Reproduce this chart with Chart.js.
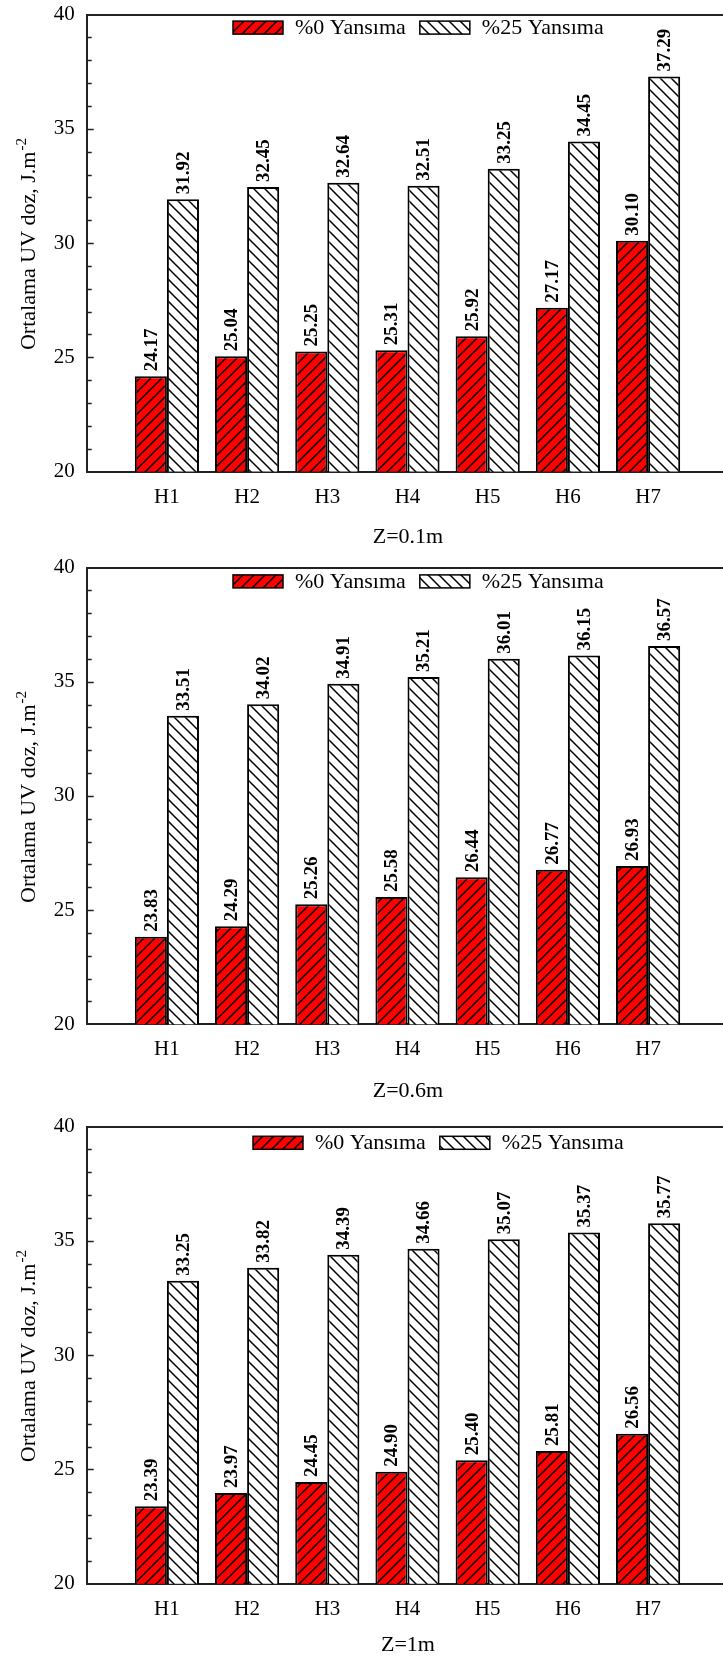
<!DOCTYPE html>
<html>
<head>
<meta charset="utf-8">
<script src="https://cdn.jsdelivr.net/npm/chart.js@4.4.1/dist/chart.umd.min.js"></script>
<style>
  html, body { margin: 0; padding: 0; background: #fff; }
  body { position: relative; width: 723px; height: 1661px; overflow: hidden; }
  canvas { position: absolute; left: 0; }
</style>
</head>
<body>
<canvas id="c1" width="740" height="600"></canvas>
<canvas id="c2" width="740" height="600"></canvas>
<canvas id="c3" width="740" height="600"></canvas>
<script>
// categories and series
const categories = ["H1", "H2", "H3", "H4", "H5", "H6", "H7"];
const seriesNames = ["%0 Yansıma", "%25 Yansıma"];
const captions = ["Z=0.1m", "Z=0.6m", "Z=1m"];

// Z = 0.1 m
const z01Refl0 = [24.17, 25.04, 25.25, 25.31, 25.92, 27.17, 30.10];
const z01Refl25 = [31.92, 32.45, 32.64, 32.51, 33.25, 34.45, 37.29];
// Z = 0.6 m
const z06Refl0 = [23.83, 24.29, 25.26, 25.58, 26.44, 26.77, 26.93];
const z06Refl25 = [33.51, 34.02, 34.91, 35.21, 36.01, 36.15, 36.57];
// Z = 1 m
const z1Refl0 = [23.39, 23.97, 24.45, 24.90, 25.40, 25.81, 26.56];
const z1Refl25 = [33.25, 33.82, 34.39, 34.66, 35.07, 35.37, 35.77];

const yMin = 20, yMax = 40, yStep = 5;
const yTitle = "Ortalama UV doz, J.m";
const yTitleSup = "-2";

const FONT = "'Liberation Serif', 'Times New Roman', serif";
const CW = 740, CH = 600, TOP_PAD = 20, X_AXIS_H = 90, Y_AXIS_W = 86.7, PLOT_RIGHT = 728.3;

// page layout of each panel (pixels)
const panels = [
  { id: "c1", top: 9.5, bottom: 471, captionY: 537, legendX: 233, legendDy: 6.5 },
  { id: "c2", top: 562.7, bottom: 1024, captionY: 1091, legendX: 233, legendDy: 7.3 },
  { id: "c3", top: 1122.3, bottom: 1584, captionY: 1646, legendX: 253, legendDy: 9.7 }
];

function hatch(bg, forward) {
  const s = 11;
  const c = document.createElement("canvas");
  c.width = c.height = s;
  const g = c.getContext("2d");
  g.fillStyle = bg;
  g.fillRect(0, 0, s, s);
  g.strokeStyle = "#000";
  g.lineWidth = 1.5;
  g.beginPath();
  if (forward) {
    g.moveTo(-1, s + 1); g.lineTo(s + 1, -1);
    g.moveTo(-1, 1); g.lineTo(1, -1);
    g.moveTo(s - 1, s + 1); g.lineTo(s + 1, s - 1);
  } else {
    g.moveTo(-1, -1); g.lineTo(s + 1, s + 1);
    g.moveTo(s - 1, -1); g.lineTo(s + 1, 1);
    g.moveTo(-1, s - 1); g.lineTo(1, s + 1);
  }
  g.stroke();
  return g.createPattern(c, "repeat");
}
const redHatch = hatch("#ff0000", true);
const whiteHatch = hatch("#ffffff", false);

const decor = {
  id: "decor",
  afterDraw(chart, args, opts) {
    const ctx = chart.ctx;
    const area = chart.chartArea;
    const y = chart.scales.y;
    ctx.save();

    // inward ticks on the y axis
    ctx.strokeStyle = "#222";
    ctx.lineWidth = 1.5;
    ctx.beginPath();
    for (let v = yMin + 1; v < yMax; v++) {
      const py = Math.round(y.getPixelForValue(v)) + 0.5;
      const len = v % yStep === 0 ? 7 : 5;
      ctx.moveTo(area.left, py);
      ctx.lineTo(area.left + len, py);
    }
    ctx.stroke();

    // y axis title with superscript
    ctx.fillStyle = "#000";
    ctx.font = "22px " + FONT;
    const wMain = ctx.measureText(yTitle).width;
    ctx.font = "15px " + FONT;
    const wSup = ctx.measureText(yTitleSup).width;
    const midY = (area.top + area.bottom) / 2 + 1.5;
    ctx.translate(35, midY + (wMain + wSup) / 2);
    ctx.rotate(-Math.PI / 2);
    ctx.textBaseline = "alphabetic";
    ctx.textAlign = "left";
    ctx.font = "22px " + FONT;
    ctx.fillText(yTitle, 0, 0);
    ctx.font = "15px " + FONT;
    ctx.fillText(yTitleSup, wMain + 1, -9);
    ctx.setTransform(1, 0, 0, 1, 0, 0);

    // value labels above bars
    ctx.font = "bold 19px " + FONT;
    ctx.textAlign = "left";
    ctx.textBaseline = "middle";
    chart.data.datasets.forEach((ds, di) => {
      chart.getDatasetMeta(di).data.forEach((bar, i) => {
        ctx.save();
        ctx.translate(bar.x, bar.y - 5);
        ctx.rotate(-Math.PI / 2);
        ctx.fillText(ds.data[i].y.toFixed(2), 0, 1);
        ctx.restore();
      });
    });

    // legend inside the plot
    ctx.font = "22px " + FONT;
    ctx.textBaseline = "middle";
    let lx = opts.legendX;
    const ly = area.top + opts.legendDy;
    chart.data.datasets.forEach((ds) => {
      ctx.fillStyle = ds.backgroundColor;
      ctx.fillRect(lx, ly, 50, 13);
      ctx.strokeStyle = "#000";
      ctx.lineWidth = 1.5;
      ctx.strokeRect(lx, ly, 50, 13);
      ctx.fillStyle = "#000";
      ctx.fillText(ds.label, lx + 62, ly + 7);
      lx += 62 + ctx.measureText(ds.label).width + 14;
    });

    // caption below the panel
    ctx.textAlign = "center";
    ctx.textBaseline = "middle";
    ctx.fillText(opts.caption, 408, opts.captionY);
    ctx.restore();
  }
};

function makePanel(p, red, white, caption) {
  const canvas = document.getElementById(p.id);
  const canvasTop = p.top - TOP_PAD;
  canvas.style.top = canvasTop + "px";
  const plotH = p.bottom - p.top;
  const border = { display: true, color: "#222", width: 2 };
  new Chart(canvas, {
    type: "bar",
    data: {
      datasets: [
        {
          label: seriesNames[0],
          data: red.map((v, i) => ({ x: i + 1, y: v })),
          backgroundColor: redHatch,
          borderColor: "#000",
          borderWidth: 2,
          borderSkipped: false,
          xAxisID: "x",
          yAxisID: "y"
        },
        {
          label: seriesNames[1],
          data: white.map((v, i) => ({ x: i + 1, y: v })),
          backgroundColor: whiteHatch,
          borderColor: "#000",
          borderWidth: 2,
          borderSkipped: false,
          xAxisID: "x",
          yAxisID: "y"
        }
      ]
    },
    options: {
      responsive: false,
      animation: false,
      events: [],
      categoryPercentage: 0.8,
      barPercentage: 1,
      layout: {
        padding: { top: TOP_PAD, left: 0, right: CW - PLOT_RIGHT, bottom: CH - X_AXIS_H - TOP_PAD - plotH }
      },
      plugins: {
        legend: { display: false },
        tooltip: { enabled: false },
        decor: { caption: caption, captionY: p.captionY - canvasTop, legendX: p.legendX, legendDy: p.legendDy }
      },
      scales: {
        x: {
          type: "linear",
          position: "bottom",
          offset: false,
          min: 0,
          max: categories.length + 1,
          grid: { display: false, drawTicks: false, offset: false },
          border: border,
          afterBuildTicks: (s) => { s.ticks = categories.map((c, i) => ({ value: i + 1 })); },
          afterFit: (s) => { s.height = X_AXIS_H; },
          ticks: {
            autoSkip: false,
            maxRotation: 0,
            padding: 13,
            color: "#000",
            font: { family: FONT, size: 21 },
            callback: (v) => categories[v - 1] || ""
          }
        },
        xTop: {
          type: "linear",
          position: "top",
          offset: false,
          min: 0,
          max: categories.length + 1,
          grid: { display: false, drawTicks: false },
          ticks: { display: false },
          border: border,
          afterFit: (s) => { s.height = 0; }
        },
        y: {
          min: yMin,
          max: yMax,
          grid: { display: false, drawTicks: false },
          border: border,
          afterFit: (s) => { s.width = Y_AXIS_W; },
          ticks: {
            stepSize: yStep,
            padding: 12,
            color: "#000",
            font: { family: FONT, size: 21 }
          }
        }
      }
    },
    plugins: [decor]
  });
}

makePanel(panels[0], z01Refl0, z01Refl25, captions[0]);
makePanel(panels[1], z06Refl0, z06Refl25, captions[1]);
makePanel(panels[2], z1Refl0, z1Refl25, captions[2]);
</script>
</body>
</html>
